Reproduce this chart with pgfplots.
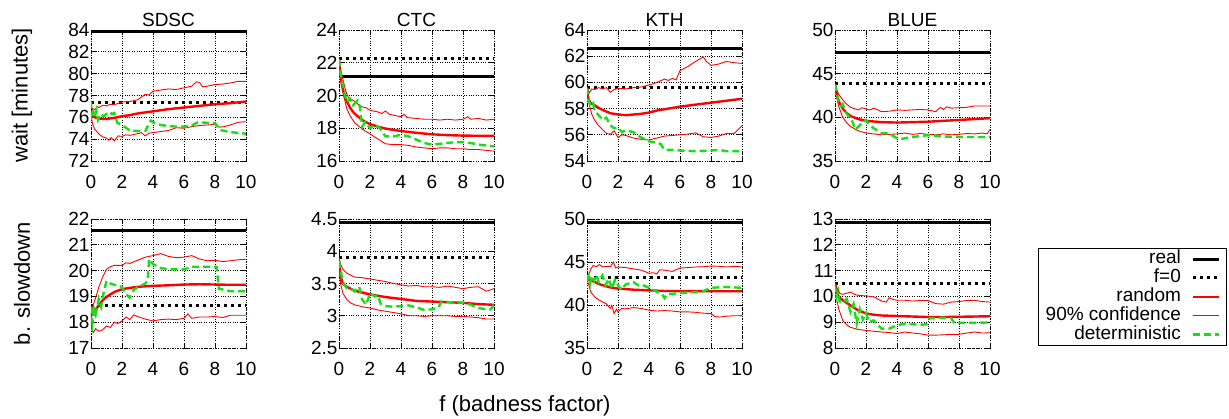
\documentclass[border=0pt]{standalone}
\usepackage{fontspec}
\setmainfont{Liberation Sans}
\usepackage{pgfplots}
\pgfplotsset{compat=1.18}

\newcommand\fs{\fontsize{19}{22}\selectfont}
\newcommand\fl{\fontsize{22}{26}\selectfont}
\definecolor{detgreen}{RGB}{20,225,20}

\pgfplotsset{
  panel/.style={
    scale only axis, width=155pt,
    xmin=0, xmax=10, xtick={0,2,4,6,8,10},
    grid=major,
    major grid style={black, dotted, line width=0.7pt},
    axis line style={black, dotted, line width=0.7pt},
    tick style={black, solid, line width=0.9pt},
    major tick length=5pt,
    tick align=inside,
    tick label style={font=\fs},
    xticklabel style={yshift=-10.5pt},
    yticklabel style={xshift=2pt},
    title style={font=\fs, yshift=-6pt},
    every axis y label/.style={at={(axis description cs:-0.445,0.5)}, rotate=90, anchor=center, font=\fl},
    /pgf/number format/assume math mode=true,
    anchor=south west,
  },
  toprow/.style={panel, height=131pt},
  botrow/.style={panel, height=129pt},
  real/.style={black, line width=3pt},
  fzero/.style={black, line width=3pt, dash pattern=on 3pt off 4pt},
  rnd/.style={red, line width=2.4pt},
  conf/.style={red, line width=0.9pt},
  det/.style={detgreen, line width=2.4pt, dash pattern=on 7pt off 4pt},
}

\begin{document}
\begin{tikzpicture}
\useasboundingbox (0,0) rectangle (1229pt,418pt);

% ---------------- wait time ----------------
\begin{axis}[toprow, at={(91pt,257pt)}, ymin=72, ymax=84, ytick={72,74,...,84},
  title={SDSC}, ylabel={wait [minutes]}]
\addplot[real] coordinates {(0,83.85) (10,83.85)};
\addplot[fzero] coordinates {(0,77.4) (10,77.4)};
\addplot[conf] coordinates {(0,76.3) (0.1,76.8) (0.25,76.7) (0.4,77.0) (0.5,76.9) (0.75,77.1) (1,77.05) (1.25,77.2) (1.5,77.15) (2,77.4) (2.5,77.45) (3,77.6) (3.25,77.85) (3.5,78.1) (3.75,78.05) (4,78.4) (4.5,78.5) (5,78.6) (5.5,78.55) (6,78.7) (6.5,78.85) (6.8,79.25) (7,79.2) (7.2,78.8) (7.5,78.85) (8,79.0) (8.5,79.05) (9,79.15) (9.5,79.3) (10,79.3)};
\addplot[conf] coordinates {(0,76.2) (0.1,75.4) (0.25,74.9) (0.5,74.5) (0.75,74.2) (1,74.1) (1.15,73.9) (1.3,74.15) (1.5,73.85) (1.75,74.3) (2,74.25) (2.25,74.4) (2.5,74.35) (3,74.5) (3.25,74.6) (3.5,74.3) (3.75,74.55) (4,74.6) (4.5,74.7) (5,74.8) (5.5,75.05) (6,75.0) (6.5,75.15) (7,75.25) (7.5,75.3) (8,75.35) (8.3,75.1) (8.6,75.15) (9,75.3) (9.5,75.55) (10,75.6)};
\addplot[rnd] coordinates {(0,76.3) (0.1,76.1) (0.25,76.0) (0.5,75.9) (0.75,75.85) (1,75.85) (1.5,75.95) (2,76.1) (2.5,76.2) (3,76.35) (3.5,76.45) (4,76.55) (5,76.75) (6,76.9) (7,77.05) (8,77.2) (9,77.3) (10,77.45)};
\addplot[det] coordinates {(0,77.45) (0.05,76.2) (0.15,76.5) (0.25,76.1) (0.35,76.6) (0.45,75.8) (0.6,76.3) (0.8,76.1) (1,76.3) (1.2,76.5) (1.35,76.3) (1.5,76.4) (1.7,75.5) (2,75.3) (2.3,75.0) (2.5,74.8) (3,74.75) (3.5,74.75) (3.7,75.3) (3.85,75.7) (4.2,75.4) (4.5,75.3) (5,75.2) (5.5,75.15) (6,75.15) (6.5,75.25) (6.9,75.55) (7.5,75.5) (8,75.45) (8.15,75.2) (8.3,74.85) (8.8,74.7) (9.3,74.6) (10,74.5)};
\end{axis}

\begin{axis}[toprow, at={(339pt,257pt)}, ymin=16, ymax=24, ytick={16,18,...,24},
  title={CTC}]
\addplot[real] coordinates {(0,21.15) (10,21.15)};
\addplot[fzero] coordinates {(0,22.25) (10,22.25)};
\addplot[conf] coordinates {(0,22.2) (0.1,21.6) (0.25,21.0) (0.4,20.4) (0.5,20.1) (0.6,19.9) (0.75,19.8) (1,19.65) (1.25,19.45) (1.5,19.3) (1.75,19.25) (2,19.1) (2.5,19.0) (2.75,18.9) (3,19.05) (3.25,18.85) (3.5,18.8) (4,18.7) (4.2,18.85) (4.4,18.65) (5,18.6) (5.5,18.55) (6,18.55) (6.5,18.5) (7,18.55) (7.5,18.5) (8,18.55) (8.3,18.7) (8.5,18.55) (9,18.6) (9.5,18.5) (10,18.55)};
\addplot[conf] coordinates {(0,22.2) (0.1,21.0) (0.25,20.2) (0.5,19.2) (0.75,18.7) (1,18.35) (1.5,17.95) (2,17.65) (2.5,17.35) (3,17.05) (3.5,17.0) (4,17.0) (4.5,16.95) (5,16.85) (5.5,16.8) (6,16.75) (6.5,16.8) (7,16.8) (7.5,16.75) (8,16.75) (8.5,16.7) (9,16.7) (9.5,16.65) (10,16.6)};
\addplot[rnd] coordinates {(0,22.2) (0.05,21.6) (0.1,21.2) (0.2,20.6) (0.35,20.0) (0.5,19.65) (0.75,19.2) (1,18.9) (1.25,18.7) (1.5,18.5) (2,18.25) (2.5,18.1) (3,17.98) (3.5,17.9) (4,17.83) (5,17.72) (6,17.63) (7,17.58) (8,17.55) (9,17.54) (10,17.53)};
\addplot[det] coordinates {(0,22.2) (0.1,21.3) (0.25,20.6) (0.4,20.0) (0.5,19.6) (0.7,19.8) (0.9,19.4) (1,19.5) (1.2,19.7) (1.35,19.3) (1.5,18.1) (1.7,18.4) (2,18.0) (2.3,18.2) (2.6,18.05) (3,17.5) (3.5,17.5) (4,17.6) (4.5,17.5) (5,17.3) (5.5,17.1) (6,17.0) (6.5,17.05) (7,17.1) (7.5,17.15) (8,17.15) (8.5,17.1) (9,17.0) (9.5,16.95) (10,16.9)};
\end{axis}

\begin{axis}[toprow, at={(587pt,257pt)}, ymin=54, ymax=64, ytick={54,56,...,64},
  title={KTH}]
\addplot[real] coordinates {(0,62.55) (10,62.55)};
\addplot[fzero] coordinates {(0,59.6) (10,59.6)};
\addplot[conf] coordinates {(0,59.6) (0.15,59.2) (0.3,59.5) (0.5,59.45) (0.75,59.6) (1,59.5) (1.25,59.6) (1.5,59.25) (1.75,59.45) (2,59.55) (2.5,59.5) (3,59.6) (3.5,59.65) (4,59.8) (4.5,60.0) (5,60.25) (5.25,60.15) (5.5,60.3) (5.75,60.2) (6,60.9) (6.5,61.2) (7,61.6) (7.3,61.8) (7.5,61.95) (7.7,61.6) (8,61.3) (8.5,61.4) (9,61.6) (9.5,61.5) (10,61.45)};
\addplot[conf] coordinates {(0,59.6) (0.15,58.3) (0.3,57.6) (0.5,57.1) (0.75,56.7) (1,56.4) (1.25,56.1) (1.5,56.05) (1.75,56.3) (2,55.8) (2.25,56.0) (2.5,55.95) (3,55.75) (3.5,55.65) (4,55.6) (4.5,55.75) (5,55.9) (5.5,55.95) (6,56.0) (6.5,56.05) (7,56.15) (7.5,55.85) (8,55.8) (8.5,55.9) (9,56.1) (9.5,56.1) (10,56.7)};
\addplot[rnd] coordinates {(0,59.5) (0.1,58.7) (0.25,58.4) (0.5,58.25) (0.75,58.05) (1,57.9) (1.5,57.65) (2,57.55) (2.5,57.5) (3,57.55) (3.5,57.6) (4,57.7) (4.5,57.85) (5,57.95) (6,58.15) (7,58.3) (8,58.45) (9,58.6) (10,58.75)};
\addplot[det] coordinates {(0,59.6) (0.1,58.6) (0.25,58.2) (0.4,58.4) (0.5,57.8) (0.75,57.5) (1,57.15) (1.25,57.3) (1.5,56.75) (1.75,56.5) (2,56.55) (2.25,56.2) (2.5,56.35) (3,56.2) (3.25,55.95) (3.5,55.8) (4,55.5) (4.5,55.4) (4.75,55.3) (5,54.85) (5.5,54.85) (6,54.8) (7,54.75) (8,54.8) (8.5,54.85) (9,54.75) (10,54.75)};
\end{axis}

\begin{axis}[toprow, at={(835pt,257pt)}, ymin=35, ymax=50, ytick={35,40,45,50},
  title={BLUE}]
\addplot[real] coordinates {(0,47.45) (10,47.45)};
\addplot[fzero] coordinates {(0,43.9) (10,43.9)};
\addplot[conf] coordinates {(0,43.8) (0.1,43.2) (0.25,42.6) (0.5,42.0) (0.75,41.5) (1,41.15) (1.25,41.0) (1.5,40.85) (1.75,41.1) (2,40.95) (2.25,40.85) (2.5,41.05) (3,40.65) (3.5,40.7) (4,40.85) (4.5,40.8) (5,40.85) (5.5,40.9) (6,40.85) (6.5,40.65) (6.8,41.15) (7,40.9) (7.2,41.2) (7.5,41.05) (8,41.1) (8.5,41.15) (9,41.3) (9.5,41.3) (10,41.3)};
\addplot[conf] coordinates {(0,43.8) (0.1,42.3) (0.25,41.2) (0.5,40.0) (0.75,39.4) (1,38.95) (1.5,38.45) (2,38.2) (2.5,38.1) (3,38.0) (3.5,38.05) (4,38.1) (4.5,38.2) (5,38.05) (5.5,38.15) (6,38.05) (6.5,38.0) (7,38.1) (7.5,38.0) (8,38.05) (8.5,38.15) (9,38.1) (9.5,38.2) (9.8,38.1) (10,38.6)};
\addplot[rnd] coordinates {(0,43.8) (0.1,42.8) (0.25,41.8) (0.5,41.0) (0.75,40.5) (1,40.15) (1.5,39.8) (2,39.6) (3,39.45) (4,39.4) (5,39.45) (6,39.5) (7,39.6) (8,39.7) (9,39.8) (10,39.9)};
\addplot[det] coordinates {(0,43.8) (0.1,42.7) (0.25,41.8) (0.4,41.3) (0.5,41.5) (0.75,40.4) (1,39.9) (1.15,39.4) (1.3,38.6) (1.5,38.9) (1.7,39.3) (2,39.7) (2.25,39.1) (2.5,38.75) (3,38.2) (3.5,38.15) (4,37.6) (4.25,37.5) (4.5,37.6) (5,37.75) (6,37.95) (6.5,37.9) (7,37.8) (8,37.75) (9,37.75) (10,37.75)};
\end{axis}

% ---------------- bounded slowdown ----------------
\begin{axis}[botrow, at={(91pt,70pt)}, ymin=17, ymax=22, ytick={17,...,22},
  ylabel={b. slowdown}]
\addplot[real] coordinates {(0,21.55) (10,21.55)};
\addplot[fzero] coordinates {(0,18.64) (10,18.64)};
\addplot[conf] coordinates {(0,18.3) (0.1,18.6) (0.25,18.85) (0.5,19.35) (0.75,19.75) (1,20.05) (1.25,20.15) (1.5,20.2) (2,20.2) (2.25,20.3) (2.5,20.28) (3,20.4) (3.5,20.52) (4,20.58) (4.5,20.66) (5,20.55) (5.5,20.5) (6,20.52) (6.5,20.58) (7,20.45) (7.5,20.38) (8,20.4) (8.5,20.35) (9,20.38) (9.5,20.42) (10,20.44)};
\addplot[conf] coordinates {(0,18.3) (0.05,17.7) (0.15,17.6) (0.3,17.75) (0.5,17.65) (0.75,17.7) (1,17.85) (1.25,17.8) (1.5,18.0) (1.75,17.95) (2,18.05) (2.25,18.2) (2.5,18.1) (2.75,18.28) (3,18.22) (3.5,18.12) (4,18.05) (4.5,18.1) (5,18.12) (5.5,18.1) (6,18.15) (6.25,18.32) (6.5,18.15) (7,18.2) (7.5,18.2) (8,18.22) (8.5,18.18) (9,18.27) (10,18.27)};
\addplot[rnd] coordinates {(0,18.3) (0.1,18.3) (0.25,18.45) (0.5,18.65) (0.75,18.85) (1,18.98) (1.5,19.17) (2,19.28) (2.5,19.33) (3,19.37) (4,19.41) (5,19.43) (6,19.46) (7,19.47) (8,19.46) (9,19.45) (10,19.45)};
\addplot[det] coordinates {(0,18.6) (0.1,18.0) (0.2,18.5) (0.3,18.3) (0.5,18.9) (0.65,18.6) (0.8,19.1) (1,19.6) (1.25,19.5) (1.5,19.45) (1.75,19.45) (2,19.35) (2.25,19.1) (2.5,18.95) (2.75,19.25) (3,19.35) (3.5,19.5) (3.65,19.6) (3.75,20.45) (4,20.25) (4.5,20.1) (5,20.05) (5.5,20.05) (6,20.05) (6.5,20.15) (7,20.15) (7.5,20.15) (8.1,20.15) (8.25,19.3) (9,19.2) (10,19.2)};
\end{axis}

\begin{axis}[botrow, at={(339pt,70pt)}, ymin=2.5, ymax=4.5, ytick={2.5,3,3.5,4,4.5}]
\addplot[real] coordinates {(0,4.45) (10,4.45)};
\addplot[fzero] coordinates {(0,3.905) (10,3.905)};
\addplot[conf] coordinates {(0,3.9) (0.1,3.8) (0.25,3.72) (0.5,3.66) (0.75,3.63) (1,3.6) (1.5,3.59) (2,3.57) (2.5,3.55) (3,3.53) (3.5,3.5) (4,3.48) (4.5,3.46) (5,3.47) (5.5,3.45) (6,3.45) (6.5,3.44) (7,3.46) (7.5,3.44) (8,3.42) (8.5,3.44) (9,3.45) (9.5,3.38) (10,3.42)};
\addplot[conf] coordinates {(0,3.9) (0.1,3.5) (0.25,3.35) (0.5,3.25) (0.75,3.2) (1,3.17) (1.5,3.14) (2,3.12) (2.5,3.09) (3,3.07) (3.5,3.05) (4,3.03) (4.5,3.0) (5,3.0) (5.5,2.99) (6,3.0) (6.5,3.0) (7,3.0) (7.5,2.99) (8,2.99) (8.5,2.98) (9,2.97) (9.5,2.95) (10,2.95)};
\addplot[rnd] coordinates {(0,3.85) (0.1,3.62) (0.25,3.5) (0.5,3.45) (0.75,3.42) (1,3.39) (1.5,3.36) (2,3.33) (3,3.29) (4,3.26) (5,3.23) (6,3.22) (7,3.21) (8,3.2) (9,3.18) (10,3.17)};
\addplot[det] coordinates {(0,3.85) (0.1,3.72) (0.2,3.58) (0.3,3.5) (0.5,3.43) (0.75,3.42) (1,3.38) (1.3,3.45) (1.5,3.25) (1.75,3.17) (2,3.35) (2.3,3.3) (2.5,3.32) (2.7,3.18) (3,3.15) (3.5,3.14) (4,3.15) (4.5,3.16) (5,3.13) (5.5,3.09) (6,3.1) (6.4,3.12) (6.6,3.22) (7,3.21) (7.5,3.21) (8,3.2) (8.5,3.17) (9,3.12) (9.5,3.1) (9.8,3.1) (10,3.17)};
\end{axis}

\begin{axis}[botrow, at={(587pt,70pt)}, ymin=35, ymax=50, ytick={35,40,45,50}]
\addplot[real] coordinates {(0,49.65) (10,49.65)};
\addplot[fzero] coordinates {(0,43.15) (10,43.15)};
\addplot[conf] coordinates {(0,43.0) (0.25,44.2) (0.4,44.6) (0.6,44.45) (0.8,44.7) (1,44.42) (1.25,44.5) (1.5,44.45) (1.7,45.0) (1.85,44.3) (2,44.42) (2.5,44.35) (3,44.2) (3.5,44.05) (4,43.7) (4.3,43.75) (4.5,43.6) (4.7,44.1) (5,44.05) (5.5,43.9) (6,44.3) (6.5,44.35) (7,44.42) (7.5,44.45) (8,44.53) (8.5,44.5) (9,44.42) (9.5,44.5) (10,44.42)};
\addplot[conf] coordinates {(0,43.0) (0.25,41.5) (0.5,40.95) (0.75,40.6) (1,40.35) (1.25,40.15) (1.5,39.6) (1.6,39.95) (1.75,39.0) (1.9,39.5) (2,39.2) (2.25,39.6) (2.5,39.55) (3,39.7) (3.5,39.6) (4,39.4) (4.5,39.3) (5,39.35) (5.5,39.3) (6,39.2) (6.5,39.2) (7,39.15) (7.5,39.05) (8,39.0) (8.25,38.65) (8.6,38.6) (9,38.7) (9.5,38.75) (10,38.76)};
\addplot[rnd] coordinates {(0,43.0) (0.25,42.85) (0.5,42.67) (0.75,42.45) (1,42.3) (1.5,42.05) (2,41.9) (2.5,41.85) (3,41.78) (4,41.7) (5,41.63) (6,41.62) (7,41.62) (8,41.62) (9,41.6) (10,41.6)};
\addplot[det] coordinates {(0,42.8) (0.1,43.3) (0.2,42.5) (0.3,43.4) (0.45,42.8) (0.6,43.5) (0.75,42.7) (0.9,43.2) (1,43.45) (1.2,42.3) (1.4,43.05) (1.6,41.9) (1.8,42.9) (2,42.3) (2.2,41.75) (2.5,42.4) (3,42.65) (3.3,42.3) (3.5,42.4) (4,42.0) (4.5,41.55) (4.8,41.4) (5,40.8) (5.2,41.3) (5.5,41.3) (6,41.4) (7,41.5) (7.5,41.6) (8,42.0) (9,42.1) (10,42.0)};
\end{axis}

\begin{axis}[botrow, at={(835pt,70pt)}, ymin=8, ymax=13, ytick={8,...,13},
  legend cell align=right, legend plot pos=right,
  legend image code/.code={\draw[#1] (0pt,0pt) -- (26pt,0pt);},
  legend style={at={(axis description cs:2.529,0.775)}, anchor=north east,
    draw=black, line width=1.2pt, font=\fs, inner xsep=6pt, inner ysep=1pt,
    row sep=0pt, column sep=9pt,
    nodes={inner sep=1.5pt, text height=12.4pt, text depth=3.5pt}}]
\addplot[real] coordinates {(0,12.88) (10,12.88)};
\addlegendentry{real}
\addplot[fzero] coordinates {(0,10.49) (10,10.49)};
\addlegendentry{f=0}
\addplot[rnd] coordinates {(0,10.5) (0.1,10.15) (0.25,9.98) (0.5,9.85) (0.75,9.75) (1,9.65) (1.5,9.46) (2,9.34) (2.5,9.29) (3,9.26) (4,9.24) (5,9.22) (6,9.2) (7,9.2) (8,9.21) (9,9.22) (10,9.23)};
\addlegendentry{random}
\addplot[conf] coordinates {(0,10.5) (0.1,9.9) (0.25,9.5) (0.5,9.07) (0.75,8.9) (1,8.8) (1.5,8.72) (2,8.68) (2.5,8.65) (3,8.62) (3.5,8.6) (4,8.56) (4.5,8.62) (5,8.58) (5.5,8.55) (6,8.5) (6.5,8.5) (7,8.51) (7.5,8.53) (8,8.53) (8.5,8.58) (9,8.62) (9.5,8.58) (10,8.59)};
\addlegendentry{90\% confidence}
\addplot[det] coordinates {(0,10.45) (0.1,10.0) (0.2,10.2) (0.3,9.8) (0.5,9.75) (0.75,9.9) (1,9.4) (1.2,9.7) (1.4,8.95) (1.6,9.5) (1.8,9.1) (2,9.35) (2.2,9.0) (2.5,9.07) (3,8.75) (3.5,8.75) (4,8.88) (4.5,8.94) (5,8.92) (5.5,8.9) (5.9,8.92) (6.1,9.15) (7,9.17) (7.5,9.15) (7.7,8.97) (8,8.98) (9,8.98) (10,8.99)};
\addlegendentry{deterministic}
\addplot[conf, forget plot] coordinates {(0,10.5) (0.15,10.3) (0.3,10.12) (0.5,10.08) (0.75,10.12) (1,10.17) (1.25,10.08) (1.5,10.04) (2,10.02) (2.5,9.98) (3,9.82) (3.3,9.78) (3.5,9.95) (3.75,9.88) (4,9.85) (4.5,9.85) (5,9.82) (5.5,9.84) (6,9.84) (6.5,9.72) (7,9.7) (7.5,9.78) (8,9.8) (8.5,9.84) (9,9.85) (9.5,9.8) (10,9.78)};
\end{axis}

\node[font=\fl] at (525pt,12pt) {f (badness factor)};
\end{tikzpicture}
\end{document}
